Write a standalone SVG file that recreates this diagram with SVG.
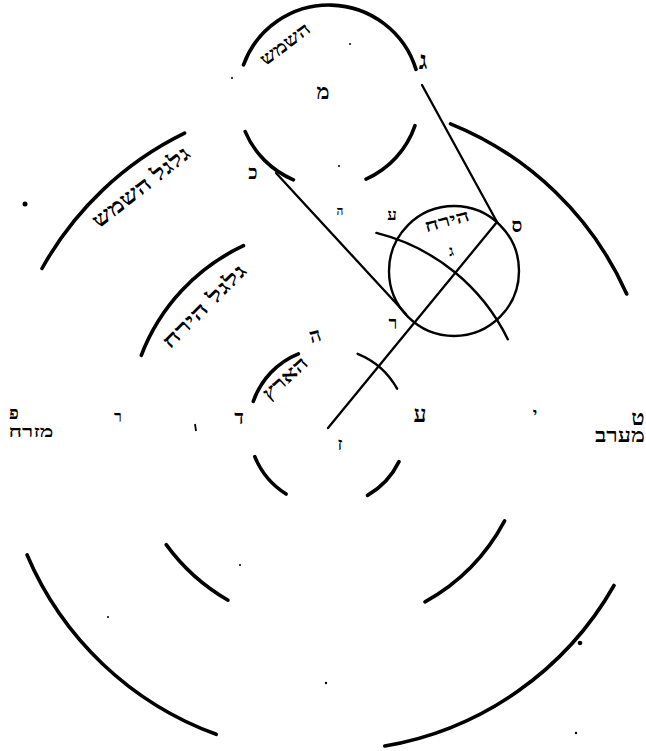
<svg xmlns="http://www.w3.org/2000/svg" width="646" height="751" viewBox="0 0 646 751">
<style>
.arc{fill:none;stroke:#000;stroke-width:3.6;stroke-linecap:round}
.thin{fill:none;stroke:#000;stroke-width:2.4;stroke-linecap:round}
.ln{fill:none;stroke:#000;stroke-width:2.3;stroke-linecap:round}
text{font-family:"Liberation Serif","DejaVu Sans","Noto Sans",serif;fill:#000;font-weight:bold;text-anchor:middle;dominant-baseline:central}
.speck{fill:#000}
</style>
<rect width="646" height="751" fill="#fff"/>

<g id="outer-orbit">
<path class="arc" d="M42,268.5 A327,327 0 0 1 184.6,133.1"/>
<path class="arc" d="M450.5,123.8 A327,327 0 0 1 626.7,294"/>
<path class="arc" d="M614,585.5 A327,327 0 0 1 384.8,746"/>
<path class="arc" d="M216.2,734.3 A327,327 0 0 1 27,554.8"/>
<text font-size="21" transform="translate(141,187) rotate(-38)" textLength="118" lengthAdjust="spacingAndGlyphs">גלגל השמש</text>
</g>

<g id="middle-orbit">
<path class="arc" d="M141.3,355.3 A200,200 0 0 1 243.5,245.7"/>
<path class="thin" d="M376.4,232.9 A200,200 0 0 1 507.8,339.3"/>
<path class="arc" d="M504.6,520.9 A200,200 0 0 1 425,601.9"/>
<path class="arc" d="M228,600.2 A200,200 0 0 1 166.2,544.6"/>
<text font-size="20" transform="translate(204,306) rotate(-45)" textLength="110" lengthAdjust="spacingAndGlyphs">גלגל הירח</text>
</g>

<g id="earth">
<path class="arc" d="M253.3,401.3 A79,79 0 0 1 298.4,353.8"/>
<path class="thin" d="M357.6,353.8 A79,79 0 0 1 397.1,388.7"/>
<path class="arc" d="M399,461.6 A79,79 0 0 1 367.5,495.4"/>
<path class="arc" d="M286.1,494 A79,79 0 0 1 254.8,456.6"/>
<text font-size="19" transform="translate(285,378) rotate(-42)" textLength="54" lengthAdjust="spacingAndGlyphs">הארץ</text>
</g>

<g id="sun">
<path class="arc" d="M243.5,64.9 A91,91 0 0 1 416,69.4"/>
<path class="arc" d="M293.4,179.8 A91,91 0 0 1 245.2,131.6"/>
<path class="arc" d="M415,125.6 A91,91 0 0 1 366,179.1"/>
<text font-size="18" transform="translate(285,44) rotate(-37)" textLength="58" lengthAdjust="spacingAndGlyphs">השמש</text>
<text x="323" y="91" font-size="22">מ</text>
</g>

<g id="moon">
<circle class="thin" cx="454" cy="271" r="65"/>
<text font-size="17" transform="translate(447,221) rotate(-15)" textLength="46" lengthAdjust="spacingAndGlyphs">הירח</text>
<text x="451" y="251" font-size="15" transform="rotate(-10 451 251)">ג</text>
</g>

<g id="connectors">
<line class="ln" x1="422" y1="85" x2="497" y2="222"/>
<line class="ln" x1="276" y1="173" x2="406" y2="314"/>
<line class="ln" x1="497" y1="222" x2="328" y2="428"/>
</g>

<g id="labels">
<text x="423" y="60" font-size="26">ג</text>
<text x="253" y="172" font-size="19">כ</text>
<text x="340" y="211" font-size="12">ה</text>
<text x="392" y="214" font-size="17">ע</text>
<text x="517" y="225" font-size="19">ס</text>
<text x="393" y="323" font-size="18">ר</text>
<text transform="translate(315,335) rotate(-15)" font-size="20">ה</text>
<text x="14" y="413" font-size="18">פ</text>
<text x="31" y="431" textLength="45" lengthAdjust="spacingAndGlyphs" font-size="17">מזרח</text>
<text x="118" y="416" font-size="16">ר</text>
<line x1="195" y1="424" x2="196" y2="431" stroke="#000" stroke-width="1.8"/>
<text x="239" y="417" font-size="20">ד</text>
<text x="340" y="444" font-size="18">ז</text>
<text x="420" y="414" font-size="23">ע</text>
<text x="535" y="413" font-size="17">י</text>
<text x="638" y="417" font-size="22">ט</text>
<text x="620" y="435" textLength="50" lengthAdjust="spacingAndGlyphs" font-size="19">מערב</text>
</g>

<g id="specks">
<circle class="speck" cx="25" cy="204" r="2.5"/>
<circle class="speck" cx="580" cy="643" r="2.3"/>
<circle class="speck" cx="350" cy="44" r="1"/>
<circle class="speck" cx="339" cy="166" r="1"/>
<circle class="speck" cx="232" cy="78" r="1"/>
<circle class="speck" cx="326" cy="683" r="1.2"/>
<circle class="speck" cx="576" cy="733" r="1.2"/>
<circle class="speck" cx="108" cy="617" r="1"/>
<circle class="speck" cx="240" cy="565" r="1"/>
</g>
</svg>
